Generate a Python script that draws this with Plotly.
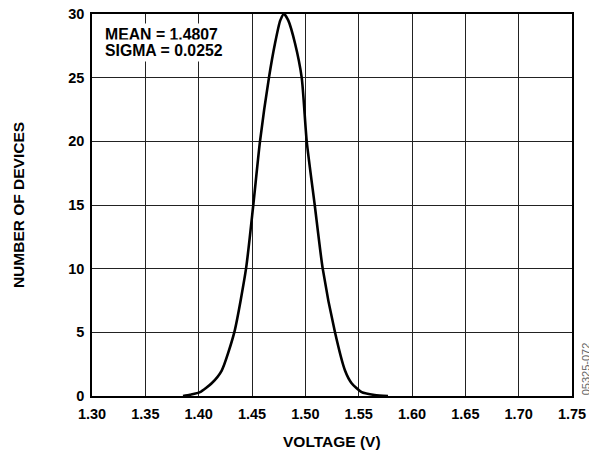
import plotly.graph_objects as go

voltage = [1.3853, 1.3919, 1.4013, 1.4122, 1.4216, 1.4334, 1.4444, 1.4512, 1.4575,
           1.4659, 1.4716, 1.4765, 1.4800, 1.4840, 1.4903, 1.4966, 1.5013, 1.5088,
           1.5163, 1.5278, 1.5372, 1.5434, 1.5528, 1.5650, 1.5775]
devices = [0, 0.1, 0.3, 1, 2, 5, 10, 15, 20,
           25, 27.7, 29.5, 30, 29.5, 27.7, 25, 20, 15,
           10, 5, 2, 1, 0.3, 0.08, 0]

x_ticks = [1.30, 1.35, 1.40, 1.45, 1.50, 1.55, 1.60, 1.65, 1.70, 1.75]
y_ticks = [0, 5, 10, 15, 20, 25, 30]
stats_lines = ["MEAN = 1.4807", "SIGMA = 0.0252"]

font = "Liberation Sans, Arial, sans-serif"

fig = go.Figure()
fig.add_trace(go.Scatter(x=voltage, y=devices, mode="lines",
                         line=dict(color="black", width=2.6, shape="spline", smoothing=0.6),
                         showlegend=False, hoverinfo="skip"))

fig.update_layout(
    width=589, height=456,
    margin=dict(l=92, r=17, t=14, b=60),
    paper_bgcolor="white", plot_bgcolor="white",
    font=dict(family=font, color="black"),
    xaxis=dict(range=[1.30, 1.75], tickvals=x_ticks,
               ticktext=[f"<b>{v:.2f}</b>" for v in x_ticks],
               tickfont=dict(size=14.5), showgrid=True, gridcolor="#222", gridwidth=1,
               zeroline=False, showline=True, linecolor="black", linewidth=1.6, mirror=True,
               ticks="", ticklen=0, ticklabelstandoff=4, automargin=False,
               ticklabeloverflow="allow"),
    yaxis=dict(range=[0, 30], tickvals=y_ticks,
               ticktext=[f"<b>{v}</b>" for v in y_ticks],
               tickfont=dict(size=14.5), showgrid=True, gridcolor="#222", gridwidth=1,
               zeroline=False, showline=True, linecolor="black", linewidth=1.6, mirror=True,
               ticks="", ticklen=0, ticklabelstandoff=3, automargin=False,
               ticklabeloverflow="allow"),
)

# axis titles
fig.add_annotation(xref="paper", yref="paper", x=0.5, y=-0.1196, xanchor="center", yanchor="middle",
                   text="<b>VOLTAGE (V)</b>", showarrow=False, font=dict(size=15.5, family=font))
fig.add_annotation(xref="paper", yref="paper", x=-0.154, y=0.5, xanchor="center", yanchor="middle",
                   text="<b>NUMBER OF DEVICES</b>", textangle=-90, showarrow=False,
                   font=dict(size=15.5, family=font))

# statistics text box
for txt, yy in zip(stats_lines, [0.9463, 0.9045]):
    fig.add_annotation(xref="paper", yref="paper", x=0.021, y=yy, xanchor="left", yanchor="middle",
                       text=f"<b>{txt}</b>", align="left", showarrow=False, bgcolor="white",
                       font=dict(size=15.8, family=font), borderpad=2)

fig.add_annotation(xref="paper", yref="paper", x=1.0, y=0.07, xshift=14, xanchor="center", yanchor="middle",
                   text="05325-072", textangle=-90, showarrow=False,
                   font=dict(size=11, color="#666", family=font))

fig.write_html("out.html", config={"displayModeBar": False},
               post_script="document.body.style.margin='0';document.body.style.overflow='hidden';")
